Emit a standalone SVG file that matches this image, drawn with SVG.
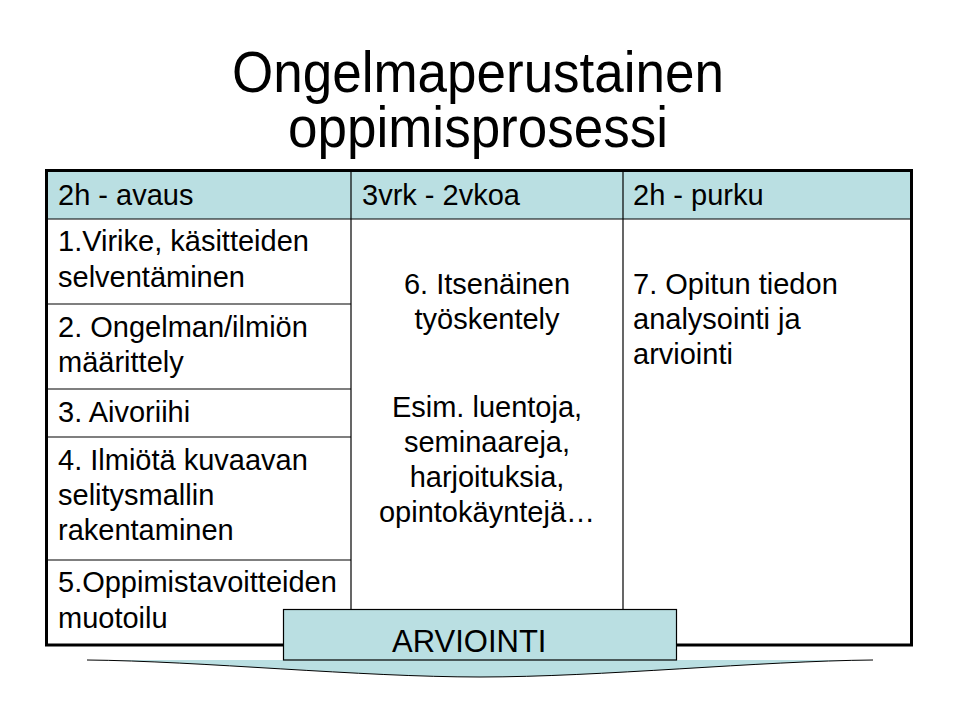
<svg xmlns="http://www.w3.org/2000/svg" width="960" height="720" viewBox="0 0 960 720">
<style>
  text { font-family: "Liberation Sans", Arial, sans-serif; fill: #000; }
  .title { font-size: 53px; text-anchor: middle; }
  .t { font-size: 29px; }
  .c { font-size: 29px; text-anchor: middle; }
  .thin { stroke: #000; stroke-width: 1.2; fill: none; }
  .teal { fill: #badfe2; }
</style>
<rect width="960" height="720" fill="#fff"/>
<g id="title">
  <text class="title" transform="translate(478,92) scale(1,1.08)">Ongelmaperustainen</text>
  <text class="title" transform="translate(478,147) scale(1,1.08)">oppimisprosessi</text>
</g>
<g id="table">
  <rect class="teal" x="47" y="171" width="864" height="48"/>
  <line class="thin" x1="47" y1="219" x2="911" y2="219"/>
  <line class="thin" x1="47" y1="304" x2="351" y2="304"/>
  <line class="thin" x1="47" y1="389" x2="351" y2="389"/>
  <line class="thin" x1="47" y1="437" x2="351" y2="437"/>
  <line class="thin" x1="47" y1="560" x2="351" y2="560"/>
  <line class="thin" x1="351" y1="171" x2="351" y2="645"/>
  <line class="thin" x1="623" y1="171" x2="623" y2="645"/>
  <rect x="46.5" y="170.5" width="865" height="474.5" fill="none" stroke="#000" stroke-width="3"/>
</g>
<g id="h1"><text class="t" x="58" y="205">2h - avaus</text></g>
<g id="h2"><text class="t" x="362" y="205">3vrk - 2vkoa</text></g>
<g id="h3"><text class="t" x="633" y="205">2h - purku</text></g>
<g id="step1"><text class="t" x="58" y="251">1.Virike, käsitteiden</text><text class="t" x="58" y="287">selventäminen</text></g>
<g id="step2"><text class="t" x="58" y="337">2. Ongelman/ilmiön</text><text class="t" x="58" y="372">määrittely</text></g>
<g id="step3"><text class="t" x="58" y="422">3. Aivoriihi</text></g>
<g id="step4"><text class="t" x="58" y="470">4. Ilmiötä kuvaavan</text><text class="t" x="58" y="505">selitysmallin</text><text class="t" x="58" y="540">rakentaminen</text></g>
<g id="step5"><text class="t" x="58" y="592">5.Oppimistavoitteiden</text><text class="t" x="58" y="628">muotoilu</text></g>
<g id="step6">
  <text class="c" x="487" y="294">6. Itsenäinen</text>
  <text class="c" x="487" y="329">työskentely</text>
  <text class="c" x="487" y="417">Esim. luentoja,</text>
  <text class="c" x="487" y="452">seminaareja,</text>
  <text class="c" x="487" y="487">harjoituksia,</text>
  <text class="c" x="487" y="522">opintokäyntejä…</text>
</g>
<g id="step7"><text class="t" x="633" y="294">7. Opitun tiedon</text><text class="t" x="633" y="329">analysointi ja</text><text class="t" x="633" y="364">arviointi</text></g>
<g id="arviointi">
  <path class="teal" d="M87,660 C200,661 360,677 480,677 C600,677 760,661 873,660 Z"/>
  <path d="M87,660 C200,661 360,677 480,677 C600,677 760,661 873,660" fill="none" stroke="#000" stroke-width="1"/>
  <rect class="teal" x="283.5" y="609.5" width="393" height="50.5" stroke="#000" stroke-width="1.2"/>
  <text x="392" y="652" font-size="31">ARVIOINTI</text>
</g>
<g id="connectors"/>
</svg>
